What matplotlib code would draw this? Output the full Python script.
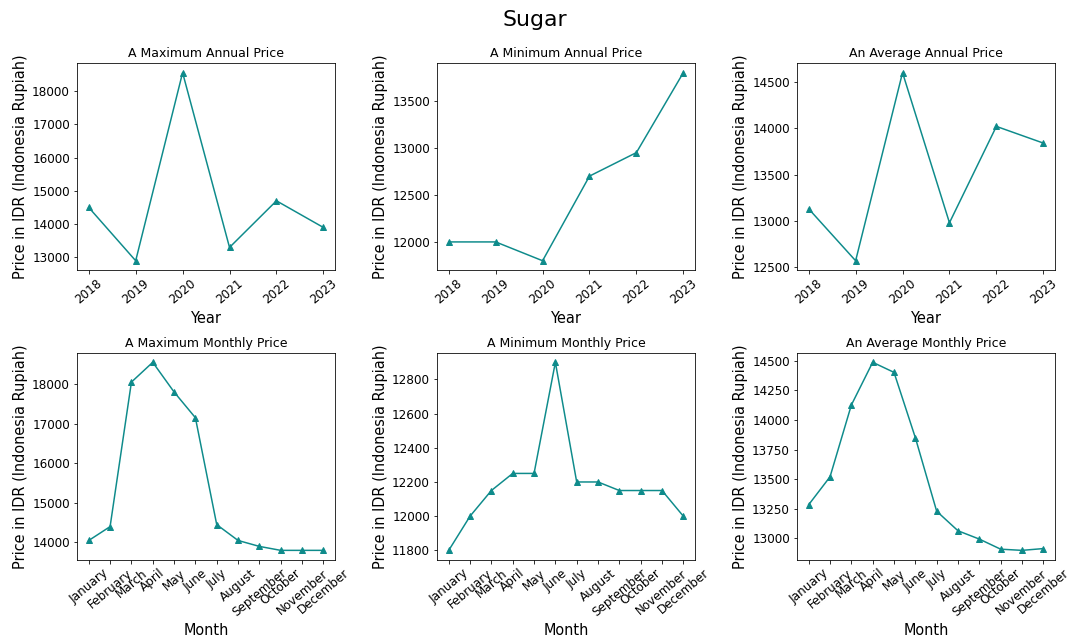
import matplotlib
matplotlib.use("Agg")
import matplotlib.pyplot as plt

years = [2018, 2019, 2020, 2021, 2022, 2023]
months = ["January", "February", "March", "April", "May", "June", "July",
          "August", "September", "October", "November", "December"]

max_annual = [14500, 12900, 18550, 13300, 14700, 13900]
min_annual = [12000, 12000, 11800, 12700, 12950, 13800]
avg_annual = [13130, 12570, 14600, 12980, 14020, 13840]

max_monthly = [14050, 14400, 18050, 18550, 17800, 17150, 14450, 14050, 13900, 13800, 13800, 13800]
min_monthly = [11800, 12000, 12150, 12250, 12250, 12900, 12200, 12200, 12150, 12150, 12150, 12000]
avg_monthly = [13285, 13520, 14125, 14485, 14400, 13850, 13230, 13065, 12995, 12910, 12900, 12915]

color = "#0e8b8b"
ylabel = "Price in IDR (Indonesia Rupiah)"

DPI = 72
fig, axes = plt.subplots(2, 3, figsize=(1070 / DPI, 639 / DPI), dpi=DPI)
fig.subplots_adjust(left=0.072, right=0.986, top=0.901, bottom=0.124,
                    wspace=0.395, hspace=0.40)
fig.suptitle("Sugar", fontsize=22, y=0.985)

panels = [
    (axes[0, 0], years, max_annual, "A Maximum Annual Price", "Year"),
    (axes[0, 1], years, min_annual, "A Minimum Annual Price", "Year"),
    (axes[0, 2], years, avg_annual, "An Average Annual Price", "Year"),
    (axes[1, 0], months, max_monthly, "A Maximum Monthly Price", "Month"),
    (axes[1, 1], months, min_monthly, "A Minimum Monthly Price", "Month"),
    (axes[1, 2], months, avg_monthly, "An Average Monthly Price", "Month"),
]

for ax, x, y, title, xlabel in panels:
    ax.plot(x, y, color=color, marker="^", markersize=6, linewidth=1.5)
    ax.set_title(title, fontsize=12.5)
    ax.set_xlabel(xlabel, fontsize=14.5)
    ax.set_ylabel(ylabel, fontsize=14.5)
    if xlabel == "Year":
        ax.set_xticks(x)
    ax.tick_params(axis="x", labelrotation=40, labelsize=12)
    ax.tick_params(axis="y", labelsize=12)

fig.savefig("out.png", dpi=DPI)
